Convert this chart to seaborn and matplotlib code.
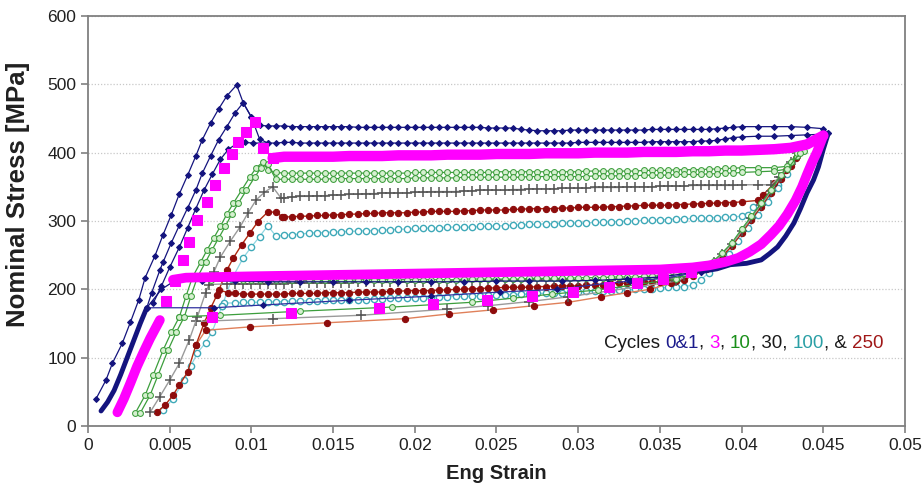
import matplotlib
matplotlib.use("Agg")
import matplotlib.pyplot as plt
import seaborn as sns

# shared strain grids (upper plateau, lower plateau, unloading)
upper_strain = [0.0120, 0.0125, 0.0130, 0.0135, 0.0140, 0.0145, 0.0150, 0.0155, 0.0160, 0.0165,
                0.0170, 0.0175, 0.0180, 0.0185, 0.0190, 0.0195, 0.0200, 0.0205, 0.0210, 0.0215,
                0.0220, 0.0225, 0.0230, 0.0235, 0.0240, 0.0245, 0.0250, 0.0255, 0.0260, 0.0265,
                0.0270, 0.0275, 0.0280, 0.0285, 0.0290, 0.0295, 0.0300, 0.0305, 0.0310, 0.0315,
                0.0320, 0.0325, 0.0330, 0.0335, 0.0340, 0.0345, 0.0350, 0.0355, 0.0360, 0.0365,
                0.0370, 0.0375, 0.0380, 0.0385, 0.0390, 0.0395, 0.0400]
lower_strain = [0.0370, 0.0365, 0.0360, 0.0355, 0.0350, 0.0345, 0.0340, 0.0335, 0.0330, 0.0325,
                0.0320, 0.0315, 0.0310, 0.0305, 0.0300, 0.0295, 0.0290, 0.0285, 0.0280, 0.0275,
                0.0270, 0.0265, 0.0260, 0.0255, 0.0250, 0.0245, 0.0240, 0.0235, 0.0230, 0.0225,
                0.0220, 0.0215, 0.0210, 0.0205, 0.0200, 0.0195, 0.0190, 0.0185, 0.0180, 0.0175,
                0.0170, 0.0165, 0.0160, 0.0155, 0.0150, 0.0145, 0.0140, 0.0135, 0.0130, 0.0125,
                0.0120, 0.0115, 0.0110, 0.0105, 0.0100, 0.0095, 0.0090]
unload_strain = [0.0434, 0.0430, 0.0424, 0.0418, 0.0412, 0.0406, 0.0400, 0.0394, 0.0388, 0.0383, 0.0378]

# cycle 0 (navy)
c0_load_x = [0.0005, 0.0011, 0.0015, 0.0021, 0.0026, 0.0031, 0.0035, 0.0041, 0.0046, 0.0051, 0.0056,
             0.0061, 0.0066, 0.0070, 0.0075, 0.0080, 0.0085, 0.0091, 0.0095, 0.0100, 0.0105, 0.0110, 0.0115]
c0_load_y = [40, 67, 92, 121, 152, 184, 217, 249, 280, 309, 340, 367, 395, 419, 443, 464, 483, 499,
             473, 452, 440, 439, 439]
c0_upper = [439, 438, 438, 438, 438, 438, 438, 438, 438, 437, 437, 437, 437, 437, 437, 437, 437, 437,
            437, 437, 437, 437, 437, 437, 437, 436, 436, 436, 436, 434, 433, 432, 432, 432, 432, 433,
            433, 433, 433, 433, 433, 433, 433, 433, 433, 434, 434, 434, 434, 434, 434, 434, 434, 435,
            436, 437, 438]
c0_end_x = [0.041, 0.042, 0.043, 0.044, 0.045, 0.0453]
c0_end_y = [438, 438, 438, 437, 435, 428]
c0_lower_x = [0.0375, 0.035, 0.033, 0.031, 0.029, 0.027, 0.025, 0.023, 0.021, 0.019, 0.017, 0.015,
              0.013, 0.011, 0.009, 0.007, 0.0054, 0.0045, 0.0036]
c0_lower_y = [226, 218, 215, 213, 212, 212, 212, 211, 211, 211, 211, 211, 211, 211, 212, 212, 214, 200, 173]

# cycle 1 (navy)
c1_load_x = [0.0036, 0.0039, 0.0044, 0.0046, 0.0051, 0.0056, 0.0061, 0.0066, 0.0070, 0.0075, 0.0080,
             0.0085, 0.0090, 0.0095, 0.0100, 0.0105, 0.0110, 0.0115]
c1_load_y = [173, 195, 228, 240, 268, 294, 319, 345, 370, 395, 419, 438, 458, 473, 452, 420, 414, 414]
c1_upper = [415, 415, 414, 414, 414, 414, 414, 414, 414, 414, 414, 414, 414, 414, 414, 414, 414, 414,
            414, 414, 414, 414, 414, 414, 414, 414, 414, 414, 414, 414, 414, 414, 414, 414, 414, 414,
            415, 415, 415, 415, 415, 415, 415, 415, 415, 416, 416, 416, 416, 416, 416, 417, 417, 418,
            420, 422, 423]
c1_end_x = [0.041, 0.042, 0.043, 0.044, 0.045, 0.0453]
c1_end_y = [424, 424, 425, 426, 427, 428]
c1_lower_x = [0.0375, 0.0353, 0.0332, 0.0318, 0.0287, 0.0252, 0.0210, 0.0160, 0.0107, 0.0077, 0.0036]
c1_lower_y = [226, 216, 212, 209, 200, 196, 190, 184, 177, 173, 173]
c1b_load_x = [0.0040, 0.0045, 0.0050, 0.0056, 0.0061, 0.0066, 0.0071, 0.0076, 0.0081, 0.0086, 0.0091,
              0.0096, 0.0101, 0.0110]
c1b_load_y = [180, 205, 232, 262, 290, 318, 345, 368, 390, 405, 413, 415, 414, 414]

navy_unload_x = [0.0453, 0.0450, 0.0447, 0.0444, 0.0440, 0.0436, 0.0432, 0.0427, 0.0422, 0.0417,
                 0.0412, 0.0403, 0.0393, 0.0385, 0.0375]
navy_unload_y = [428, 405, 379, 360, 341, 318, 297, 278, 262, 252, 243, 238, 236, 230, 226]
navy_drop_x = [0.0036, 0.0032, 0.0028, 0.0024, 0.0020, 0.0016, 0.0012, 0.0008]
navy_drop_y = [173, 150, 125, 100, 75, 52, 35, 22]

# cycle 3 (magenta)
mag_low_x = [0.0018, 0.0022, 0.0026, 0.0030, 0.0034, 0.0038, 0.0042, 0.0044]
mag_low_y = [20, 40, 63, 87, 108, 128, 146, 155]
mag_rise_x = [0.0048, 0.0053, 0.0058, 0.0062, 0.0067, 0.0073, 0.0078, 0.0083, 0.0088, 0.0092, 0.0097,
              0.0102, 0.0107, 0.0113]
mag_rise_y = [183, 212, 243, 269, 301, 328, 353, 377, 398, 416, 430, 445, 407, 392]
mag_upper_x = [0.012, 0.013, 0.014, 0.015, 0.016, 0.017, 0.018, 0.019, 0.020, 0.021, 0.022, 0.023,
               0.024, 0.025, 0.026, 0.027, 0.028, 0.029, 0.030, 0.031, 0.032, 0.033, 0.034, 0.035,
               0.036, 0.037, 0.038, 0.039, 0.040, 0.041, 0.042, 0.043, 0.044, 0.045]
mag_upper_y = [394, 394, 394, 394, 395, 395, 395, 396, 396, 396, 397, 397, 397, 398, 398, 398, 399, 399,
               399, 400, 400, 400, 401, 401, 401, 402, 402, 403, 403, 404, 405, 407, 412, 425]
mag_unload_x = [0.0450, 0.0446, 0.0443, 0.0440, 0.0437, 0.0433, 0.0428, 0.0423, 0.0418, 0.0412, 0.0405,
                0.0398, 0.0390, 0.0380, 0.0370, 0.035, 0.030, 0.025, 0.020, 0.015, 0.010, 0.0060, 0.0052]
mag_unload_y = [425, 400, 385, 368, 350, 330, 310, 293, 280, 266, 255, 246, 240, 235, 232, 229, 227,
                225, 223, 221, 219, 217, 214]
mag_sparse_x = [0.0369, 0.0352, 0.0336, 0.0319, 0.0297, 0.0272, 0.0244, 0.0211, 0.0178, 0.0124, 0.0076]
mag_sparse_y = [225, 215, 209, 203, 196, 190, 184, 178, 173, 166, 160]

# cycle 10 (green), two traces
gA_load_x = [0.0029, 0.0035, 0.0040, 0.0046, 0.0051, 0.0056, 0.0060, 0.0064, 0.0069, 0.0073, 0.0077,
             0.0081, 0.0085, 0.0089, 0.0094, 0.0099, 0.0103, 0.0107, 0.0110, 0.0115]
gA_load_y = [19, 45, 75, 111, 137, 160, 190, 218, 240, 258, 275, 292, 310, 326, 345, 364, 378, 386, 375, 371]
gA_upper = [370, 370, 370, 370, 370, 370, 370, 370, 370, 370, 370, 370, 370, 370, 370, 370, 371, 371,
            371, 371, 371, 371, 371, 371, 371, 371, 372, 372, 372, 372, 372, 372, 372, 372, 372, 372,
            372, 373, 373, 373, 373, 373, 373, 373, 374, 374, 374, 374, 375, 375, 375, 375, 376, 376,
            377, 377, 378]
gA_end_x = [0.041, 0.042, 0.0428, 0.0434, 0.0438]
gA_end_y = [378, 378, 380, 395, 402]
gB_load_x = [0.0032, 0.0038, 0.0043, 0.0049, 0.0054, 0.0059, 0.0063, 0.0067, 0.0072, 0.0076, 0.0080,
             0.0084, 0.0088, 0.0092, 0.0097, 0.0102, 0.0106, 0.0110, 0.0115]
gB_load_y = [19, 45, 75, 111, 137, 160, 190, 218, 240, 258, 275, 292, 310, 326, 345, 364, 378, 383, 361]
gB_upper = [361, 361, 361, 361, 361, 361, 362, 362, 362, 362, 362, 362, 362, 362, 362, 362, 363, 363,
            363, 363, 363, 363, 364, 364, 364, 364, 364, 364, 364, 364, 365, 365, 365, 365, 365, 365,
            365, 365, 366, 366, 366, 366, 366, 366, 367, 367, 367, 367, 368, 368, 368, 368, 369, 369,
            370, 370, 371]
gB_end_x = [0.041, 0.042, 0.0428, 0.0436]
gB_end_y = [372, 373, 376, 400]
green_unload = [400, 386, 367, 346, 326, 307, 288, 268, 253, 242, 233]
green_lower = [226, 224, 222, 221, 220, 219, 219, 218, 218, 218, 218, 217, 217, 217, 217, 216, 216, 216,
               216, 216, 216, 215, 215, 215, 215, 215, 215, 215, 215, 214, 214, 214, 214, 214, 214, 214,
               214, 214, 214, 214, 214, 214, 213, 213, 213, 213, 213, 213, 213, 213, 213, 213, 213, 213,
               213, 213, 213]
green_tail_x = [0.0075, 0.0064]
green_tail_y = [213, 218]
green_sparse_x = [0.0378, 0.0360, 0.0312, 0.0284, 0.0260, 0.0235, 0.0186, 0.0130, 0.0081, 0.0056]
green_sparse_y = [233, 215, 199, 193, 187, 181, 174, 168, 162, 160]

# cycle 30 (gray)
gray_load_x = [0.0038, 0.0044, 0.0050, 0.0056, 0.0062, 0.0067, 0.0072, 0.0077, 0.0081, 0.0087, 0.0093,
               0.0098, 0.0103, 0.0108, 0.0113, 0.0118]
gray_load_y = [20, 43, 67, 92, 126, 160, 195, 225, 247, 270, 291, 312, 331, 342, 350, 334]
gray_upper = [334, 335, 336, 336, 337, 337, 338, 338, 339, 339, 340, 340, 341, 341, 341, 341, 342, 342,
              343, 343, 343, 343, 344, 344, 345, 345, 345, 345, 346, 346, 347, 347, 347, 347, 348, 348,
              348, 348, 349, 349, 349, 349, 350, 350, 350, 350, 351, 351, 351, 351, 352, 352, 352, 352,
              352, 352, 353]
gray_end_x = [0.041, 0.0418, 0.0423, 0.0430, 0.0436]
gray_end_y = [353, 353, 364, 386, 400]
gray_unload = [399, 384, 365, 344, 324, 305, 285, 266, 251, 240, 231]
gray_lower = [222, 220, 218, 217, 216, 216, 215, 215, 215, 215, 214, 214, 214, 214, 214, 214, 213, 213,
              213, 213, 213, 213, 213, 213, 213, 213, 212, 212, 212, 212, 211, 211, 211, 211, 211, 211,
              210, 210, 210, 210, 210, 210, 209, 209, 209, 209, 209, 209, 209, 209, 208, 208, 208, 208,
              208, 208, 208]
gray_tail_x = [0.0085, 0.0074]
gray_tail_y = [208, 207]
gray_sparse_x = [0.0378, 0.0360, 0.0294, 0.0270, 0.0245, 0.0220, 0.0167, 0.0113, 0.0066]
gray_sparse_y = [231, 212, 189, 182, 176, 171, 162, 157, 153]

# cycle 250 (dark red)
red_load_x = [0.0042, 0.0047, 0.0052, 0.0056, 0.0061, 0.0066, 0.0071, 0.0075, 0.0079, 0.0085, 0.0089,
              0.0094, 0.0099, 0.0104, 0.0110, 0.0115, 0.0119]
red_load_y = [20, 30, 45, 60, 79, 118, 150, 172, 192, 228, 246, 265, 282, 299, 313, 313, 306]
red_upper = [306, 306, 307, 307, 308, 308, 309, 309, 310, 310, 311, 311, 312, 312, 312, 312, 313, 313,
             314, 314, 314, 314, 315, 315, 316, 316, 316, 316, 317, 317, 318, 318, 318, 318, 319, 319,
             320, 320, 320, 320, 321, 321, 322, 322, 323, 323, 323, 323, 324, 324, 325, 325, 326, 326,
             327, 327, 328]
red_end_x = [0.041, 0.0413, 0.0420, 0.0427, 0.0433]
red_end_y = [330, 338, 355, 375, 392]
red_unload = [395, 380, 362, 341, 321, 302, 282, 263, 248, 238, 229]
red_lower = [220, 214, 212, 212, 211, 211, 210, 210, 209, 209, 208, 207, 206, 206, 205, 205, 205, 205,
             204, 204, 203, 203, 203, 203, 202, 202, 201, 201, 200, 200, 199, 199, 198, 198, 198, 198,
             197, 197, 196, 196, 196, 196, 195, 195, 195, 195, 194, 194, 194, 194, 193, 193, 193, 193,
             193, 193, 194]
red_tail_x = [0.0086, 0.0080]
red_tail_y = [195, 199]
red_sparse_x = [0.0378, 0.0357, 0.0344, 0.0330, 0.0314, 0.0294, 0.0273, 0.0248, 0.0221, 0.0194, 0.0146,
                0.0099, 0.0072, 0.0066]
red_sparse_y = [229, 209, 200, 195, 189, 181, 176, 170, 164, 157, 151, 145, 140, 118]

# cycle 100 (cyan)
cyan_load_x = [0.0046, 0.0052, 0.0059, 0.0063, 0.0067, 0.0072, 0.0076, 0.0082, 0.0088, 0.0095, 0.0100,
               0.0105, 0.0110, 0.0115]
cyan_load_y = [23, 40, 67, 88, 107, 122, 138, 175, 215, 246, 262, 277, 293, 278]
cyan_upper = [279, 280, 281, 282, 283, 283, 284, 284, 285, 285, 286, 286, 287, 287, 288, 288, 289, 289,
              290, 290, 291, 291, 291, 291, 292, 292, 293, 293, 294, 294, 295, 295, 296, 296, 297, 297,
              297, 297, 298, 298, 299, 299, 300, 300, 301, 301, 302, 302, 303, 303, 304, 304, 305, 305,
              306, 306, 307]
cyan_end_x = [0.0404, 0.0407, 0.0415, 0.0422, 0.0428, 0.0422, 0.0416, 0.0410, 0.0404, 0.0398, 0.0392,
              0.0386, 0.0380, 0.0375]
cyan_end_y = [309, 320, 335, 352, 368, 348, 328, 308, 289, 270, 252, 237, 224, 214]
cyan_lower = [206, 204, 203, 203, 202, 201, 200, 200, 199, 199, 198, 198, 197, 197, 196, 196, 195, 195,
              194, 194, 193, 193, 192, 192, 191, 191, 190, 190, 190, 190, 189, 189, 188, 188, 188, 188,
              187, 187, 186, 186, 185, 185, 185, 185, 184, 184, 183, 183, 183, 183, 182, 182, 181, 181,
              181, 181, 180]
cyan_tail_x = [0.0083, 0.0082]
cyan_tail_y = [180, 175]

x_ticks = [0, 0.005, 0.01, 0.015, 0.02, 0.025, 0.03, 0.035, 0.04, 0.045, 0.05]
x_labels = ["0", "0.005", "0.01", "0.015", "0.02", "0.025", "0.03", "0.035", "0.04", "0.045", "0.05"]
y_ticks = [0, 100, 200, 300, 400, 500, 600]

legend_parts = ["Cycles ", "0&1", ", ", "3", ", ", "10", ", 30, ", "100", ", & ", "250"]
legend_colors = ["#1a1a1a", "#1c1c8c", "#1a1a1a", "#ff00ff", "#1a1a1a", "#1a8f1a", "#1a1a1a",
                 "#2a9fa5", "#1a1a1a", "#a01818"]

NAVY = "#14147e"
MAG = "#ff00ff"
GREEN = "#3c9e3c"
GRAY = "#555555"
RED = "#8e0c0c"
CYAN = "#3fa9b8"

sns.set_style("white")
plt.rcParams["font.family"] = ["Liberation Sans", "DejaVu Sans"]

fig, ax = plt.subplots(figsize=(9.22, 4.98), dpi=100)
fig.subplots_adjust(left=0.0954, right=0.9816, top=0.968, bottom=0.1446)


def line(x, y, **kw):
    sns.lineplot(x=x, y=y, sort=False, estimator=None, ax=ax, **kw)


# cyan (cycle 100)
cy_x = cyan_load_x + upper_strain + cyan_end_x + lower_strain + cyan_tail_x
cy_y = cyan_load_y + cyan_upper + cyan_end_y + cyan_lower + cyan_tail_y
line(cy_x, cy_y, color="#8fd6e2", lw=0.9, marker="o", ms=4.5, mfc="white", mec=CYAN, mew=1.0)

# red (cycle 250)
line(red_sparse_x, red_sparse_y, color="#e0805a", lw=1.0, marker="o", ms=4.5, mfc=RED, mec=RED)
rd_x = red_load_x + upper_strain + red_end_x + unload_strain + lower_strain + red_tail_x
rd_y = red_load_y + red_upper + red_end_y + red_unload + red_lower + red_tail_y
line(rd_x, rd_y, color="#b02a10", lw=1.0, marker="o", ms=4.5, mfc=RED, mec=RED)

# gray (cycle 30)
line(gray_sparse_x, gray_sparse_y, color="#9a9a9a", lw=1.0, marker="+", ms=6.5, mec=GRAY, mew=1.1)
gr_x = gray_load_x + upper_strain + gray_end_x + unload_strain + lower_strain + gray_tail_x
gr_y = gray_load_y + gray_upper + gray_end_y + gray_unload + gray_lower + gray_tail_y
line(gr_x, gr_y, color="#9a9a9a", lw=1.0, marker="+", ms=6.5, mec=GRAY, mew=1.1)

# green (cycle 10)
line(green_sparse_x, green_sparse_y, color=GREEN, lw=0.9, marker="o", ms=4.2, mfc="#d6f0d0", mec=GREEN)
gA_x = gA_load_x + upper_strain + gA_end_x + unload_strain + lower_strain + green_tail_x
gA_y = gA_load_y + gA_upper + gA_end_y + green_unload + green_lower + green_tail_y
line(gA_x, gA_y, color=GREEN, lw=0.9, marker="o", ms=4.2, mfc="#d6f0d0", mec=GREEN)
line(gB_load_x + upper_strain + gB_end_x, gB_load_y + gB_upper + gB_end_y,
     color=GREEN, lw=0.9, marker="o", ms=4.2, mfc="#d6f0d0", mec=GREEN)

# navy (cycles 0 & 1)
line(c0_load_x + upper_strain + c0_end_x, c0_load_y + c0_upper + c0_end_y,
     color=NAVY, lw=0.9, marker="D", ms=3, mfc=NAVY, mec=NAVY)
line(c0_lower_x, c0_lower_y, color=NAVY, lw=0.9, marker="D", ms=3, mfc=NAVY, mec=NAVY)
line(c1_load_x + upper_strain + c1_end_x, c1_load_y + c1_upper + c1_end_y,
     color=NAVY, lw=0.9, marker="D", ms=3, mfc=NAVY, mec=NAVY)
line(c1b_load_x, c1b_load_y, color=NAVY, lw=0.9, marker="D", ms=3, mfc=NAVY, mec=NAVY)
line(c1_lower_x, c1_lower_y, color="#3030a0", lw=0.9, marker="D", ms=3, mfc=NAVY, mec=NAVY)
line(navy_unload_x, navy_unload_y, color=NAVY, lw=3.5)
line(navy_drop_x, navy_drop_y, color=NAVY, lw=3.5)

# magenta (cycle 3)
line(mag_rise_x, mag_rise_y, color=MAG, lw=0, marker="s", ms=6.5, mfc=MAG, mec=MAG)
line(mag_sparse_x, mag_sparse_y, color=MAG, lw=0, marker="s", ms=6.5, mfc=MAG, mec=MAG)
line(mag_low_x, mag_low_y, color=MAG, lw=7)
line([mag_rise_x[-1]] + mag_upper_x, [mag_rise_y[-1]] + mag_upper_y, color=MAG, lw=7.5)
line(mag_unload_x, mag_unload_y, color=MAG, lw=7)

# axes styling
ax.set_xlim(0, 0.05)
ax.set_ylim(0, 600)
ax.set_xticks(x_ticks)
ax.set_xticklabels(x_labels)
ax.set_yticks(y_ticks)
ax.tick_params(axis="both", labelsize=12.5, colors="#202020", length=5, width=1.2, direction="out",
               bottom=True, left=True)
ax.tick_params(axis="both", color="#808080")
ax.yaxis.grid(True, color="#c8c8c8", linestyle=(0, (1, 1.5)), lw=0.9)
ax.xaxis.grid(False)
for sp in ax.spines.values():
    sp.set_color("#808080")
    sp.set_linewidth(1.3)
ax.set_xlabel("Eng Strain", fontsize=14.5, fontweight="bold", color="#202020", labelpad=8)
ax.set_ylabel("Nominal Stress [MPa]", fontsize=18.5, fontweight="bold", color="#202020")
ax.yaxis.set_label_coords(-0.071, 0.565)

# multi-coloured cycle note
prev = ax.text(0.0316, 121, legend_parts[0], color=legend_colors[0], fontsize=13.5, va="center")
for part, col in zip(legend_parts[1:], legend_colors[1:]):
    prev = ax.annotate(part, xy=(1, 0), xycoords=prev, va="bottom", ha="left",
                       color=col, fontsize=13.5)

fig.savefig("out.png", dpi=100)
